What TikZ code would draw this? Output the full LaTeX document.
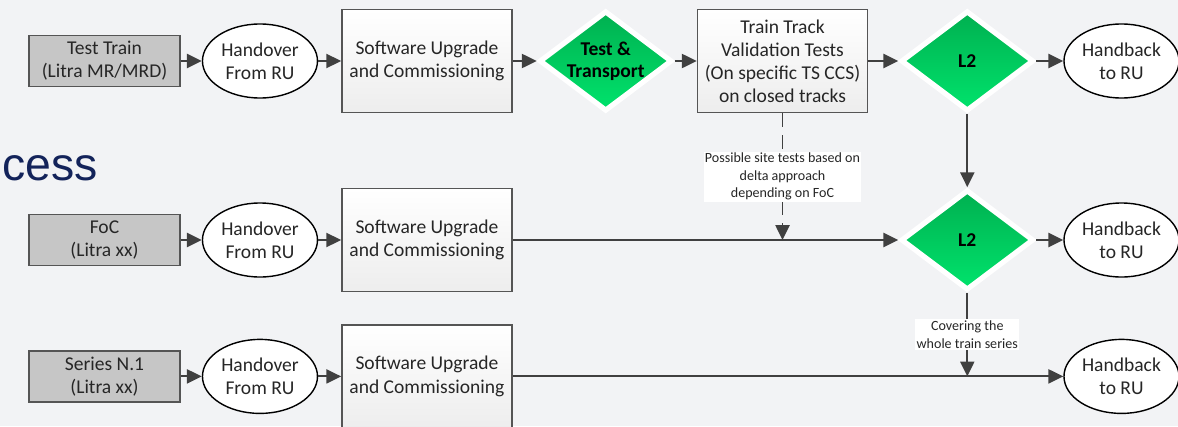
\documentclass[tikz,border=0pt]{standalone}
\usepackage{fontspec}
\setmainfont{Carlito}
\newfontfamily\titlefont{Liberation Sans}
\usetikzlibrary{shapes.geometric, arrows.meta, positioning}
\definecolor{bggray}{HTML}{F2F3F5}
\definecolor{linegray}{HTML}{404040}
\definecolor{boxgray}{HTML}{C6C6C6}
\definecolor{edgegray}{HTML}{555555}
\definecolor{gatetop}{HTML}{00B050}
\definecolor{gatebot}{HTML}{00E36C}
\definecolor{titlenavy}{HTML}{13235A}

\begin{document}
\begin{tikzpicture}[
    node distance=0.575cm,
    every node/.style={text=black!85, font=\fontsize{13.9}{16.4}\selectfont},
    trainbox/.style={rectangle, draw=edgegray, fill=boxgray, line width=1.1pt, minimum width=3.775cm, minimum height=1.275cm, align=center, inner sep=1pt},
    handover/.style={ellipse, draw=black, fill=white, line width=1pt, minimum width=2.875cm, minimum height=1.85cm, align=center, inner sep=0pt},
    workbox/.style={rectangle, draw=edgegray, top color=white, bottom color=black!7, line width=1.1pt, minimum width=4.25cm, minimum height=2.575cm, align=center},
    gate/.style={diamond, draw=white, line width=0.13cm, top color=gatetop, bottom color=gatebot, minimum width=3.32cm, minimum height=2.51cm, shape aspect=1.33, inner sep=0pt, align=center, text=black, font=\bfseries\fontsize{13.9}{15.6}\selectfont},
    note/.style={fill=white, align=center, inner sep=1pt, font=\fontsize{10}{12.5}\selectfont},
    arrow/.style={-{Triangle[length=0.37cm, width=0.35cm]}, draw=linegray, line width=1.4pt},
    siteline/.style={arrow, dash pattern=on 0.35cm off 0.2cm}
]
    \useasboundingbox[fill=bggray] (0,0) rectangle (29.45,-10.65);
    \node[anchor=base west, text=titlenavy, font=\titlefont\fontsize{33}{40}\selectfont] (title) at (-0.06,-4.5) {cess};

    \node[trainbox] (tt-in) at (2.6125,-1.525) {Test Train\\(Litra MR/MRD)};
    \node[handover, right=0.525cm of tt-in] (tt-ho) {Handover\\From RU};
    \node[workbox, right=of tt-ho] (tt-sw) {Software Upgrade\\and Commissioning};
    \node[gate, right=0.6cm of tt-sw] (tt-gate) {Test \&\\Transport};
    \node[workbox, right=0.55cm of tt-gate] (tt-val) {Train Track\\Validation Tests\\(On specific TS CCS)\\on closed tracks};
    \node[gate, right=0.75cm of tt-val] (tt-l2) {L2};
    \node[handover, right=0.675cm of tt-l2] (tt-hb) {Handback\\to RU};

    \node[trainbox] (foc-in) at (2.6125,-6.0) {FoC\\(Litra xx)};
    \node[handover, right=0.525cm of foc-in] (foc-ho) {Handover\\From RU};
    \node[workbox, right=of foc-ho] (foc-sw) {Software Upgrade\\and Commissioning};
    \node[gate] (foc-l2) at (tt-l2 |- foc-sw) {L2};
    \node[handover] (foc-hb) at (tt-hb |- foc-sw) {Handback\\to RU};

    \node[trainbox] (ser-in) at (2.6125,-9.41) {Series N.1\\(Litra xx)};
    \node[handover, right=0.525cm of ser-in] (ser-ho) {Handover\\From RU};
    \node[workbox, right=of ser-ho] (ser-sw) {Software Upgrade\\and Commissioning};
    \node[handover] (ser-hb) at (tt-hb |- ser-sw) {Handback\\to RU};

    \coordinate (site) at (tt-val.south |- foc-sw.east);
    \coordinate (fleet) at (foc-l2.south |- ser-sw.east);

    \draw[arrow] (tt-in) -- (tt-ho);
    \draw[arrow] (tt-ho) -- (tt-sw);
    \draw[arrow] (tt-sw) -- (tt-gate);
    \draw[arrow] (tt-gate) -- (tt-val);
    \draw[arrow] (tt-val) -- (tt-l2);
    \draw[arrow] (tt-l2) -- (tt-hb);

    \draw[arrow] (foc-in) -- (foc-ho);
    \draw[arrow] (foc-ho) -- (foc-sw);
    \draw[arrow] (foc-sw) -- (foc-l2);
    \draw[arrow] (foc-l2) -- (foc-hb);

    \draw[arrow] (ser-in) -- (ser-ho);
    \draw[arrow] (ser-ho) -- (ser-sw);
    \draw[arrow] (ser-sw) -- (ser-hb);

    \draw[arrow] (tt-l2) -- (foc-l2);
    \draw[siteline] (tt-val) -- (site) node[note, midway] {Possible site tests based on\\delta approach\\depending on FoC};
    \draw[arrow] (foc-l2) -- (fleet) node[note, midway] {Covering the\\whole train series};
\end{tikzpicture}
\end{document}
